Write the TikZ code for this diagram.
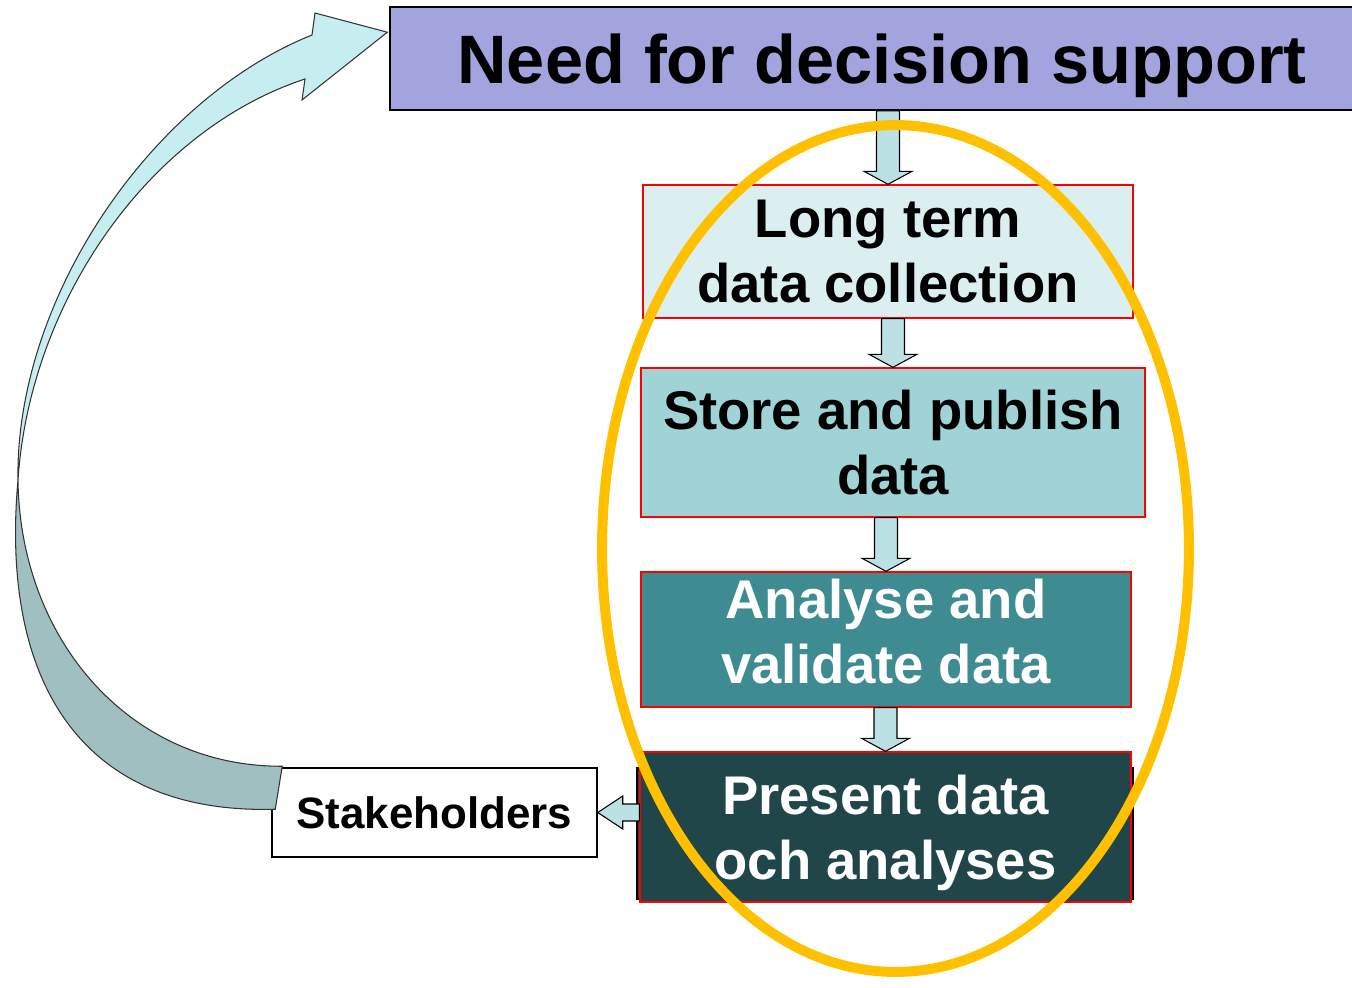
\documentclass[tikz,border=0pt]{standalone}
\usepackage{fontspec}
\setmainfont{Liberation Sans}
\usetikzlibrary{calc}

\definecolor{needfill}{HTML}{A3A3DD}
\definecolor{collectfill}{HTML}{DBEEF0}
\definecolor{storefill}{HTML}{9FD3D6}
\definecolor{analysefill}{HTML}{3E8B91}
\definecolor{presentfill}{HTML}{20464A}
\definecolor{blockfill}{HTML}{BCE1E5}
\definecolor{loopdark}{HTML}{9FBFC1}
\definecolor{looplight}{HTML}{C6EEF0}
\definecolor{ringorange}{HTML}{FFC000}

\tikzset{
	stage/.style={draw=red, line width=0.8pt, rectangle, align=center, inner sep=0pt,
		font=\fontsize{31}{37}\selectfont\bfseries},
	downblock/.style={draw=black, line width=0.6pt, fill=blockfill,
		to path={let \p1=(\tikztostart), \p2=(\tikztotarget) in
			(\x2-0.23cm,\y1) -- (\x2+0.23cm,\y1) -- (\x2+0.23cm,\y2+0.26cm)
			-- (\x2+0.48cm,\y2+0.26cm) -- (\x2,\y2) -- (\x2-0.48cm,\y2+0.26cm)
			-- (\x2-0.23cm,\y2+0.26cm) -- cycle}},
	leftblock/.style={draw=black, line width=0.6pt, fill=blockfill,
		to path={let \p1=(\tikztostart), \p2=(\tikztotarget) in
			(\x1,\y2+0.17cm) -- (\x2+0.5cm,\y2+0.17cm) -- (\x2+0.5cm,\y2+0.33cm)
			-- (\x2,\y2) -- (\x2+0.5cm,\y2-0.33cm) -- (\x2+0.5cm,\y2-0.17cm)
			-- (\x1,\y2-0.17cm) -- cycle}},
	loopband/.style={draw=black!80, line width=0.6pt}
}

\begin{document}
\begin{tikzpicture}[x=0.02cm, y=-0.02cm]
	\useasboundingbox (0,0) rectangle (1352,987);
	
	% Top box and the boxes of the chain
	\node[draw=black, line width=0.9pt, fill=needfill, minimum width=19.68cm, minimum height=2.06cm,
		text depth=0pt, font=\fontsize{39}{47}\selectfont\bfseries] (need) at (882,58.5) {Need for decision support};
	
	\node[stage, fill=collectfill, minimum width=9.8cm, minimum height=2.66cm]
		(collect) at (888,251.5) {Long term\\data collection};
	\node[stage, fill=storefill, minimum width=10.08cm, minimum height=2.98cm]
		(store) at (893,442.5) {Store and publish\\data};
	\node[stage, fill=analysefill, text=white, text depth=0.33cm, minimum width=9.8cm, minimum height=2.7cm]
		(analyse) at (886,639.5) {Analyse and\\validate data};
	
	% Box left behind the last one
	\draw[black, line width=0.8pt, fill=presentfill] (637,768) rectangle (1133,899);
	\node[stage, fill=presentfill, text=white, text depth=0pt, minimum width=9.82cm, minimum height=3cm]
		(present) at (885.5,827) {Present data\\och analyses};
	
	\node[draw=black, line width=0.9pt, fill=white, minimum width=6.5cm, minimum height=1.78cm,
		font=\fontsize{25}{30}\selectfont\bfseries] (stake) at (434.5,812.5) {Stakeholders};
	
	% Block arrows between the boxes
	\draw[downblock] (need.south) to (collect.north);
	\draw[downblock] (collect.south) to (store.north);
	\draw[downblock] (store.south) to (analyse.north);
	\draw[downblock] (analyse.south) to (present.north);
	\draw[leftblock] (present.west) to (stake.east);
	
	% Curved arrow from the stakeholders back to the top
	\coordinate (tailin) at ($(stake.north west)+(11,-1)$);
	\coordinate (tailout) at ($(stake.north west)+(4,42)$);
	\coordinate (twist) at (18,480);
	\coordinate (tip) at ($(need.north west)+(-2,26)$);
	
	\draw[loopband, fill=loopdark] (tailin) .. controls (130,767) and (20,640) .. (twist)
		.. controls (0,680) and (80,815) .. (tailout) -- cycle;
	\draw[loopband, fill=looplight] (twist) .. controls (15,300) and (150,100) .. (312,35)
		-- (315,13) -- (tip) -- (302,100) -- (305,79)
		.. controls (150,130) and (30,300) .. (twist) -- cycle;
	
	% Orange ring round the chain
	\draw[ringorange, line width=5.7pt] (895.5,548.5) ellipse [x radius=5.87cm, y radius=8.47cm];
\end{tikzpicture}
\end{document}
